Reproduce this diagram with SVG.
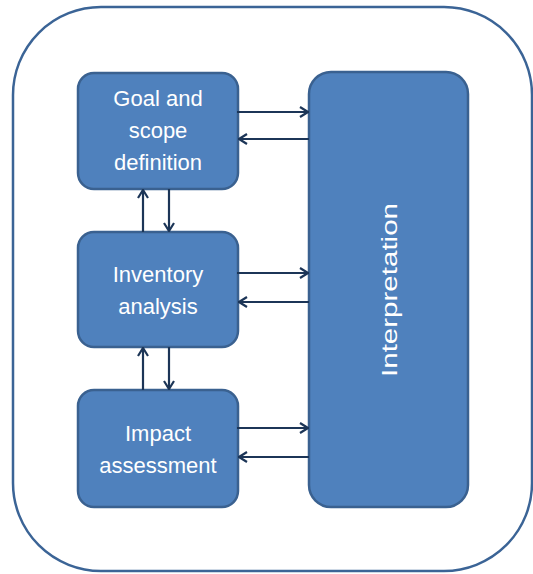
<svg xmlns="http://www.w3.org/2000/svg" width="533" height="574" viewBox="0 0 533 574">
  <style>
    .box { fill: #4f81bd; stroke: #3a6190; stroke-width: 2.5; }
    .lbl { fill: #ffffff; font-family: "Liberation Sans", "DejaVu Sans", sans-serif; font-size: 22px; text-anchor: middle; }
    .link { fill: none; stroke: #1c3557; stroke-width: 2.2; marker-end: url(#open); }
  </style>
  <defs>
    <marker id="open" viewBox="0 0 12 12" refX="11" refY="6" markerWidth="12" markerHeight="12" markerUnits="userSpaceOnUse" orient="auto">
      <path d="M3,1 L11,6 L3,11" fill="none" stroke="#1c3557" stroke-width="2.2"/>
    </marker>
  </defs>

  <!-- outer frame -->
  <rect id="frame" x="13" y="7" width="519" height="564" rx="88" ry="88" fill="#ffffff" stroke="#3b6496" stroke-width="2.5"/>

  <g id="goal">
    <rect class="box" x="78" y="73" width="160" height="116" rx="16"/>
    <text class="lbl" x="158" y="106">Goal and</text>
    <text class="lbl" x="158" y="138">scope</text>
    <text class="lbl" x="158" y="170">definition</text>
  </g>

  <g id="inventory">
    <rect class="box" x="78" y="232" width="160" height="115" rx="16"/>
    <text class="lbl" x="158" y="282">Inventory</text>
    <text class="lbl" x="158" y="314">analysis</text>
  </g>

  <g id="impact">
    <rect class="box" x="78" y="390" width="160" height="117" rx="16"/>
    <text class="lbl" x="158" y="441">Impact</text>
    <text class="lbl" x="158" y="473">assessment</text>
  </g>

  <g id="interpretation">
    <rect class="box" x="309" y="72" width="159" height="435" rx="22"/>
    <text class="lbl" x="0" y="0" font-size="25" textLength="174" lengthAdjust="spacingAndGlyphs" transform="translate(397,290) rotate(-90)">Interpretation</text>
  </g>

  <g id="connectors">
    <!-- phases to interpretation and back -->
    <line class="link" x1="237" y1="112" x2="308" y2="112"/>
    <line class="link" x1="309" y1="139" x2="239" y2="139"/>
    <line class="link" x1="237" y1="273" x2="308" y2="273"/>
    <line class="link" x1="309" y1="302" x2="239" y2="302"/>
    <line class="link" x1="237" y1="428" x2="308" y2="428"/>
    <line class="link" x1="309" y1="457" x2="239" y2="457"/>
    <!-- between phases -->
    <line class="link" x1="143" y1="232" x2="143" y2="190"/>
    <line class="link" x1="169" y1="189" x2="169" y2="231"/>
    <line class="link" x1="143" y1="390" x2="143" y2="348"/>
    <line class="link" x1="169" y1="347" x2="169" y2="389"/>
  </g>
</svg>
